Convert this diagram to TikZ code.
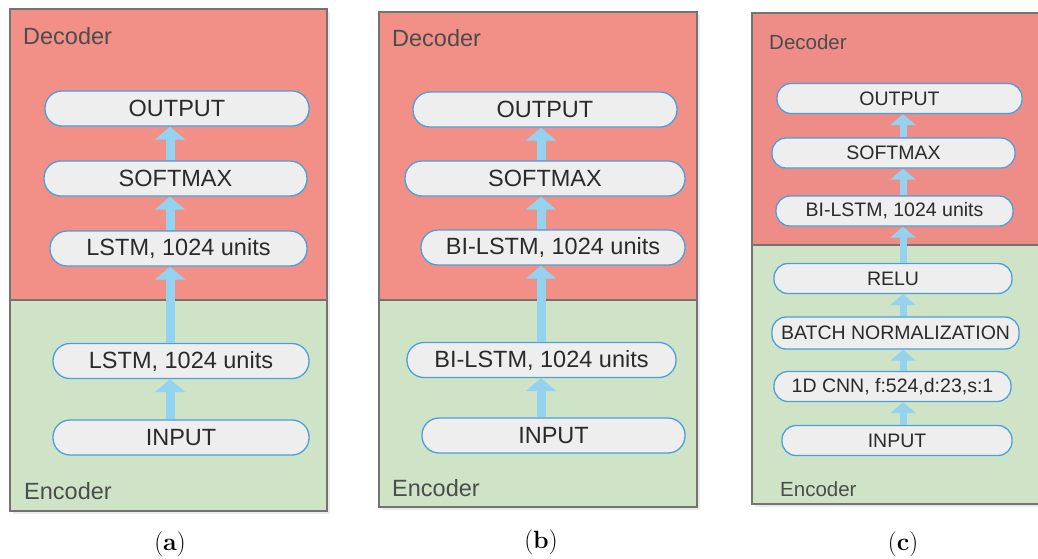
\documentclass[tikz,border=0pt]{standalone}
\usepackage{fontspec}
\setsansfont{Liberation Sans}
\usepackage{xcolor}
\usetikzlibrary{arrows.meta, positioning}

\definecolor{decfill}{HTML}{F28F86}
\definecolor{deccfill}{HTML}{EE8D88}
\definecolor{encfill}{HTML}{CFE3C7}
\definecolor{layerfill}{HTML}{EEEEEE}
\definecolor{layerline}{HTML}{4C9FDD}
\definecolor{flow}{HTML}{93D3EF}
\definecolor{txt}{HTML}{2A2A2A}

\begin{document}
\begin{tikzpicture}[x=1pt, y=-1pt,
    panel/.style={draw=black!55, line width=1.3pt},
    layer/.style={rectangle, draw=layerline, fill=layerfill, line width=1.3pt, rounded corners=17pt, minimum height=35pt, inner sep=0pt, text=txt, font=\sffamily\fontsize{23.5}{27}\selectfont},
    small/.style={rounded corners=14pt, minimum height=30pt, font=\sffamily\fontsize{19.5}{23}\selectfont},
    arrow/.style={draw=flow, line width=9pt, -{Triangle[width=30pt, length=13pt]}},
    slim/.style={draw=flow, line width=7pt, -{Triangle[width=25pt, length=11pt]}},
    tag/.style={anchor=west, inner sep=0pt, text=black!70, font=\sffamily\fontsize{23.5}{27}\selectfont},
    caption/.style={font=\fontsize{25}{29}\selectfont}
]
    \useasboundingbox (0,0) rectangle (1038,558);
    \clip (0,0) rectangle (1038,558);

    % Panels
    \fill[black!8] (13,12) rectangle (330,514);
    \fill[decfill] (10,9) rectangle (327,300);
    \fill[encfill] (10,300) rectangle (327,511);
    \draw[panel] (10,9) rectangle (327,511) (10,300) -- (327,300);

    \fill[black!8] (382,15) rectangle (700,510);
    \fill[decfill] (379,12) rectangle (697,300);
    \fill[encfill] (379,300) rectangle (697,507);
    \draw[panel] (379,12) rectangle (697,507) (379,300) -- (697,300);

    \fill[black!8] (755,16) rectangle (1060,507);
    \fill[deccfill] (752,13) rectangle (1050,245);
    \fill[encfill] (752,245) rectangle (1050,504);
    \draw[panel] (752,13) rectangle (1050,504) (752,245) -- (1050,245);

    % Panel labels
    \node[tag] (deca) at (23,36) {Decoder};
    \node[tag] (enca) at (24,491) {Encoder};
    \node[tag] (decb) at (392,38) {Decoder};
    \node[tag] (encb) at (392,488) {Encoder};
    \node[tag, font=\sffamily\fontsize{20.5}{24}\selectfont] (decc) at (769,42) {Decoder};
    \node[tag, font=\sffamily\fontsize{20.5}{24}\selectfont] (encc) at (780,489) {Encoder};

    % Layers (a)
    \node[layer, minimum width=264pt] (outa) at (177,108.5) {OUTPUT};
    \node[layer, minimum width=263pt] (softa) at (175.5,178.5) {SOFTMAX};
    \node[layer, minimum width=257pt] (lstmda) at (178.5,248.5) {LSTM, 1024 units};
    \node[layer, minimum width=256pt] (lstmea) at (181,361) {LSTM, 1024 units};
    \node[layer, minimum width=256pt] (ina) at (181,437.5) {INPUT};

    % Layers (b)
    \node[layer, minimum width=264pt] (outb) at (545,109.5) {OUTPUT};
    \node[layer, minimum width=280pt] (softb) at (545,178.5) {SOFTMAX};
    \node[layer, minimum width=264pt] (bidb) at (553,247.5) {BI-LSTM, 1024 units};
    \node[layer, minimum width=269pt] (bieb) at (541.5,360) {BI-LSTM, 1024 units};
    \node[layer, minimum width=263pt] (inb) at (553.5,435.5) {INPUT};

    % Layers (c)
    \node[layer, small, minimum width=245pt] (outc) at (899.5,98.5) {OUTPUT};
    \node[layer, small, minimum width=243pt] (softc) at (893.5,153) {SOFTMAX};
    \node[layer, small, minimum width=237pt] (bidc) at (894.5,211) {BI-LSTM, 1024 units};
    \node[layer, small, minimum width=238pt] (reluc) at (893,278.5) {RELU};
    \node[layer, small, minimum width=247pt, minimum height=32pt] (bnc) at (895.5,333) {BATCH NORMALIZATION};
    \node[layer, small, minimum width=237pt] (cnnc) at (892.5,386.5) {1D CNN, f:524,d:23,s:1};
    \node[layer, small, minimum width=230pt] (inc) at (897,440.5) {INPUT};

    % Arrows
    \coordinate (ax) at (170,0);
    \coordinate (bx) at (541,0);
    \coordinate (cx) at (903,0);
    \draw[arrow] (ina.north -| ax) -- (lstmea.south -| ax);
    \draw[arrow] (lstmea.north -| ax) -- (lstmda.south -| ax);
    \draw[arrow] (lstmda.north -| ax) -- (softa.south -| ax);
    \draw[arrow] (softa.north -| ax) -- (outa.south -| ax);

    \draw[arrow] (inb.north -| bx) -- (bieb.south -| bx);
    \draw[arrow] (bieb.north -| bx) -- (bidb.south -| bx);
    \draw[arrow] (bidb.north -| bx) -- (softb.south -| bx);
    \draw[arrow] (softb.north -| bx) -- (outb.south -| bx);

    \draw[slim] (inc.north -| cx) -- (cnnc.south -| cx);
    \draw[slim] (cnnc.north -| cx) -- (bnc.south -| cx);
    \draw[slim] (bnc.north -| cx) -- (reluc.south -| cx);
    \draw[slim] (reluc.north -| cx) -- (bidc.south -| cx);
    \draw[slim] (bidc.north -| cx) -- (softc.south -| cx);
    \draw[slim] (softc.north -| cx) -- (outc.south -| cx);

    % Captions
    \node[caption] (capa) at (170,544) {(\textbf{a})};
    \node[caption] (capb) at (541,542) {(\textbf{b})};
    \node[caption] (capc) at (903,544) {(\textbf{c})};
\end{tikzpicture}
\end{document}
